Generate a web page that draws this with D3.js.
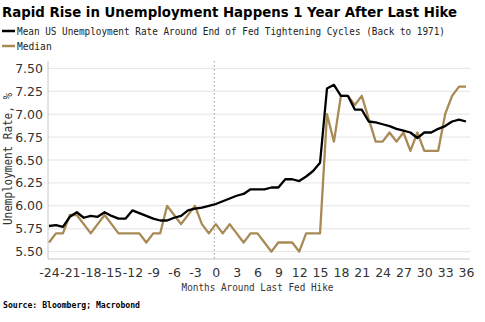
<!DOCTYPE html>
<html><head><meta charset="utf-8">
<script src="https://cdn.jsdelivr.net/npm/d3@7"></script>
<style>body{margin:0;background:#fff;}svg{display:block;}</style>
</head><body>
<svg id="c" width="485" height="322"></svg>
<script>
const months = d3.range(-24, 37);
const meanRate = [5.78,5.79,5.77,5.88,5.93,5.87,5.89,5.88,5.93,5.89,5.86,5.86,5.95,5.92,5.89,5.86,5.84,5.84,5.87,5.89,5.95,5.97,5.98,6.00,
  6.02,6.05,6.08,6.11,6.13,6.18,6.18,6.18,6.20,6.20,6.29,6.29,6.27,6.32,6.38,6.47,7.28,7.32,7.20,7.20,7.05,7.05,6.92,6.91,6.89,6.87,6.84,6.82,6.80,6.74,6.80,6.80,6.84,6.87,6.92,6.94,6.92];
const medianRate = [5.6,5.7,5.7,5.9,5.9,5.8,5.7,5.8,5.9,5.8,5.7,5.7,5.7,5.7,5.6,5.7,5.7,6.0,5.9,5.8,5.9,6.0,5.8,5.7,
  5.8,5.7,5.8,5.7,5.6,5.7,5.7,5.6,5.5,5.6,5.6,5.6,5.5,5.7,5.7,5.7,7.0,6.7,7.2,7.2,7.1,7.2,6.95,6.7,6.7,6.8,6.7,6.8,6.6,6.8,6.6,6.6,6.6,7.0,7.2,7.3,7.3];
const yTicks = [5.50,5.75,6.00,6.25,6.50,6.75,7.00,7.25,7.50];
const xTicks = d3.range(-24, 37, 3);
const titleText = "Rapid Rise in Unemployment Happens 1 Year After Last Hike";
const legendLabels = ["Mean US Unemployment Rate Around End of Fed Tightening Cycles (Back to 1971)", "Median"];
const yTitle = "Unemployment Rate, %";
const xTitle = "Months Around Last Fed Hike";
const sourceText = "Source: Bloomberg; Macrobond";

const colMean = "#000000", colMedian = "#a88a55";
const svg = d3.select("#c");
const x = d3.scaleLinear().domain([-24, 36]).range([49, 466]);
const y = d3.scaleLinear().domain([5.42, 7.58]).range([259, 61]);
const plotL = 48, plotR = 470, plotT = 61, plotB = 259;

function fit(sel, w){ const n = sel.node(); const L = n.getComputedTextLength(); if (Math.abs(L - w) > 1) sel.attr("textLength", w).attr("lengthAdjust", "spacingAndGlyphs"); }

// title
fit(svg.append("text").attr("x", 2).attr("y", 17).attr("font-family", "DejaVu Sans").attr("font-weight", "bold")
  .attr("font-size", 13.5).attr("fill", "#000").text(titleText), 455);

// legend
const legCols = [colMean, colMedian];
legendLabels.forEach((t, i) => {
  const ly = 31 + i * 15;
  svg.append("line").attr("x1", 2).attr("x2", 15).attr("y1", ly).attr("y2", ly).attr("stroke", legCols[i]).attr("stroke-width", 2.5);
  const tx = svg.append("text").attr("x", 17).attr("y", ly + 3.5).attr("font-family", "DejaVu Sans Mono")
    .attr("font-size", 9.6).attr("fill", "#222").text(t);
  if (i === 0) fit(tx, 428);
});

// gridlines
svg.append("g").selectAll("line").data(yTicks).join("line")
  .attr("x1", plotL).attr("x2", plotR).attr("y1", d => y(d)).attr("y2", d => y(d))
  .attr("stroke", "#e3e3e3").attr("stroke-width", 1);

// axes lines
svg.append("line").attr("x1", plotL).attr("x2", plotL).attr("y1", plotT).attr("y2", plotB).attr("stroke", "#c8c8c8");
svg.append("line").attr("x1", plotL).attr("x2", plotR).attr("y1", plotB).attr("y2", plotB).attr("stroke", "#c8c8c8");

// zero dotted line
svg.append("line").attr("x1", x(0) - 1.5).attr("x2", x(0) - 1.5).attr("y1", plotT).attr("y2", plotB)
  .attr("stroke", "#999").attr("stroke-dasharray", "1.5,2.5").attr("stroke-width", 1);

// y axis labels
const yAxis = d3.axisLeft(y).tickValues(yTicks).tickFormat(d3.format(".2f")).tickSize(0).tickPadding(5);
const gy = svg.append("g").attr("transform", `translate(${plotL},0)`).call(yAxis);
gy.select(".domain").remove();
gy.selectAll("text").attr("font-family", "DejaVu Sans").attr("font-size", 12.5).attr("fill", "#333");

// x axis labels
const xAxis = d3.axisBottom(x).tickValues(xTicks).tickFormat(d => String(d)).tickSize(0).tickPadding(9);
const gx = svg.append("g").attr("transform", `translate(0,${plotB})`).call(xAxis);
gx.select(".domain").remove();
gx.selectAll("text").attr("font-family", "DejaVu Sans").attr("font-size", 12.5).attr("fill", "#333");

// axis titles
fit(svg.append("text").attr("x", x(6)).attr("y", 291).attr("text-anchor", "middle").attr("font-family", "DejaVu Sans Mono")
  .attr("font-size", 10.5).attr("fill", "#333").text(xTitle), 152);
fit(svg.append("text").attr("transform", "translate(12,159) rotate(-90)").attr("text-anchor", "middle")
  .attr("font-family", "DejaVu Sans Mono").attr("font-size", 11.5).attr("fill", "#333").text(yTitle), 132);

// source
fit(svg.append("text").attr("x", 3).attr("y", 308).attr("font-family", "DejaVu Sans Mono").attr("font-weight", "bold")
  .attr("font-size", 8.5).attr("fill", "#000").text(sourceText), 137);

// lines
const line = d3.line().x((d, i) => x(months[i])).y(d => y(d));
svg.append("path").datum(medianRate).attr("d", line).attr("fill", "none").attr("stroke", colMedian).attr("stroke-width", 2.3).attr("stroke-linejoin", "round");
svg.append("path").datum(meanRate).attr("d", line).attr("fill", "none").attr("stroke", colMean).attr("stroke-width", 2.3).attr("stroke-linejoin", "round");
</script>
</body></html>
